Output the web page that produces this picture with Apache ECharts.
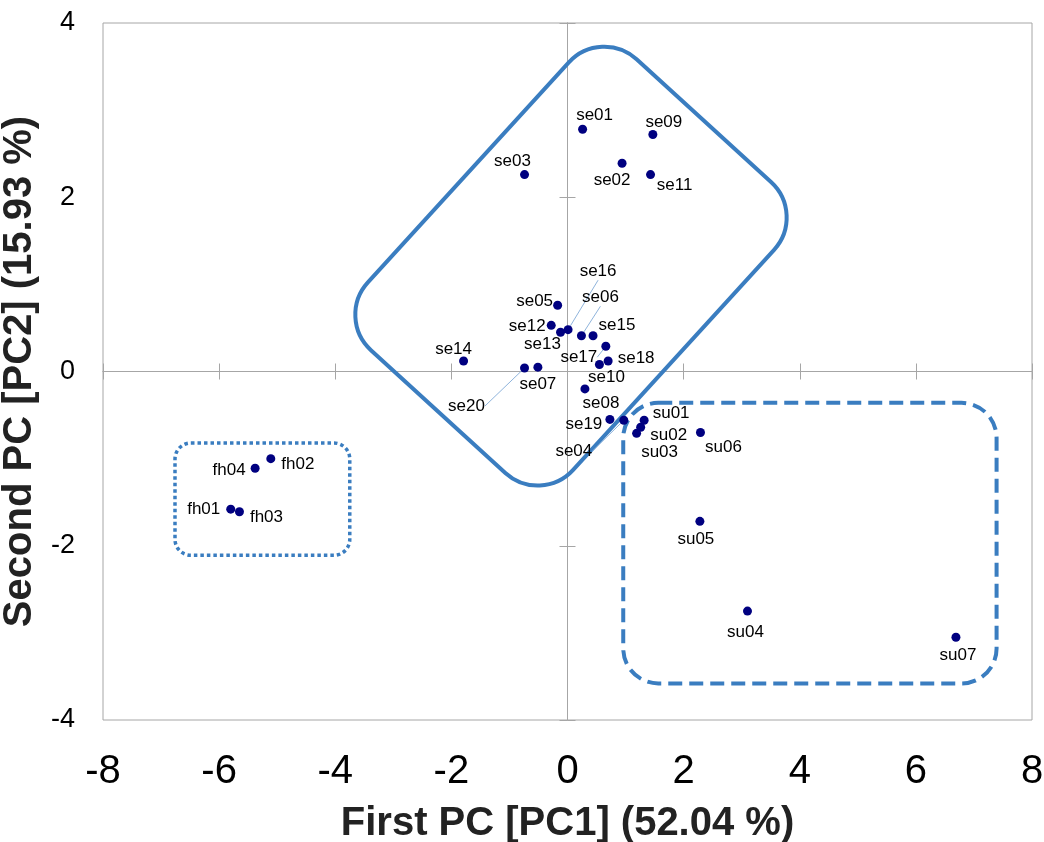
<!DOCTYPE html>
<html><head><meta charset="utf-8">
<script src="https://cdn.jsdelivr.net/npm/echarts@6/dist/echarts.min.js"></script>
<style>html,body{margin:0;padding:0;background:#fff}#c{width:1044px;height:842px}</style>
</head><body><div id="c"></div>
<script>
// ---- data ----
const sampleNames = ['se01','se02','se03','se04','se05','se06','se07','se08','se09','se10',
  'se11','se12','se13','se14','se15','se16','se17','se18','se19','se20',
  'su01','su02','su03','su04','su05','su06','su07','fh01','fh02','fh03','fh04'];
const pc1Scores = [0.26,0.94,-0.74,0.97,-0.17,0.24,-0.51,0.30,1.47,0.55,
  1.43,-0.28,-0.12,-1.79,0.44,0.01,0.66,0.70,0.73,-0.74,
  1.32,1.26,1.19,3.10,2.28,2.29,6.69,-5.80,-5.11,-5.65,-5.38];
const pc2Scores = [2.78,2.39,2.26,-0.56,0.76,0.41,0.05,-0.20,2.72,0.08,
  2.26,0.53,0.45,0.12,0.41,0.48,0.29,0.12,-0.55,0.04,
  -0.56,-0.64,-0.71,-2.75,-1.72,-0.70,-3.05,-1.58,-1.00,-1.61,-1.11];
const xTickValues = [-8,-6,-4,-2,0,2,4,6,8];
const yTickValues = [-4,-2,0,2,4];
const xAxisTitle = 'First PC [PC1] (52.04 %)';
const yAxisTitle = 'Second PC [PC2] (15.93 %)';

// ---- styling (label placement, leader lines, group outlines) ----
const labelOffsets = {
  se01:[12,-14], se02:[-10,17], se03:[-12,-13], se04:[-50,31], se05:[-23,-4],
  se06:[19,-38], se07:[0,17], se08:[16,14], se09:[11,-12], se10:[7,13],
  se11:[24,11], se12:[-24,1], se13:[-18,12], se14:[-10,-12], se15:[24,-10],
  se16:[30,-58], se17:[-27,11], se18:[28,-3], se19:[-26,5], se20:[-58,38],
  su01:[27,-7], su02:[28,8], su03:[23,19], su04:[-2,21], su05:[-4,18],
  su06:[23,15], su07:[2,18], fh01:[-27,0], fh02:[27,6], fh03:[27,6], fh04:[-26,2]
};
const leaderLabels = ['se16','se06','se17','se20','se04'];
const BLUE = '#3A7DC0';
const GRAY = '#a6a6a6';
const FONT = "'Liberation Sans', Arial, sans-serif";

const chart = echarts.init(document.getElementById('c'));
const gridRect = {left:103, top:23, width:929, height:697, containLabel:false, outerBoundsMode:'none'};

function zeroAxes(gi, inside) {
  const common = {gridIndex:gi, type:'value', axisLabel:{show:false}, splitLine:{show:false},
    axisLine:{show:true, onZero:true, lineStyle:{color:GRAY, width:1}},
    axisTick:{show:true, inside:inside, length:8, lineStyle:{color:GRAY, width:1}}};
  return {
    x: Object.assign({min:xTickValues[0], max:xTickValues[xTickValues.length-1], interval:2}, common),
    y: Object.assign({min:yTickValues[0], max:yTickValues[yTickValues.length-1], interval:2}, common)
  };
}
const z1 = zeroAxes(1, true), z2 = zeroAxes(2, false);

const option = {
  animation:false,
  backgroundColor:'#fff',
  grid:[
    Object.assign({show:true, borderColor:GRAY, borderWidth:1, backgroundColor:'transparent'}, gridRect),
    Object.assign({show:false}, gridRect),
    Object.assign({show:false}, gridRect)
  ],
  xAxis:[
    {gridIndex:0, type:'value', position:'bottom', min:xTickValues[0], max:xTickValues[xTickValues.length-1], interval:2,
     axisLine:{show:false, onZero:false}, axisTick:{show:false}, splitLine:{show:false},
     axisLabel:{fontSize:40, color:'#000', margin:32, fontFamily:FONT},
     name:xAxisTitle, nameLocation:'middle', nameGap:84,
     nameTextStyle:{fontSize:40, fontWeight:'bold', color:'#222', fontFamily:FONT}},
    z1.x, z2.x
  ],
  yAxis:[
    {gridIndex:0, type:'value', position:'left', min:yTickValues[0], max:yTickValues[yTickValues.length-1], interval:2,
     axisLine:{show:false, onZero:false}, axisTick:{show:false}, splitLine:{show:false},
     axisLabel:{fontSize:27, color:'#000', margin:28, fontFamily:FONT},
     name:yAxisTitle, nameLocation:'middle', nameGap:53,
     nameTextStyle:{fontSize:40, fontWeight:'bold', color:'#222', fontFamily:FONT}},
    z1.y, z2.y
  ],
  series:[{
    type:'scatter', xAxisIndex:0, yAxisIndex:0, z:5,
    symbol:'circle', symbolSize:9,
    itemStyle:{color:'#000080', opacity:1},
    label:{show:true, position:'inside', formatter:'{b}', fontSize:17, color:'#000', fontFamily:FONT},
    labelLine:{show:false, lineStyle:{color:'#8fb4dc', width:1}},
    labelLayout:function(p){ const o = labelOffsets[sampleNames[p.dataIndex]] || [0,0]; return {dx:o[0], dy:o[1]}; },
    data: sampleNames.map((n,i)=>{
      const d = {name:n, value:[pc1Scores[i], pc2Scores[i]]};
      if (leaderLabels.indexOf(n) >= 0) d.labelLine = {show:true, lineStyle:{color:'#8fb4dc', width:1}};
      return d;
    })
  }]
};
chart.setOption(option);

// ---- group outlines, positioned through the chart's coordinate system ----
const solidGroup = {center:[0.06,1.21], w:278, h:394, rotDeg:-42.4, r:48};
const sumGroup = {x:[0.96,7.39], y:[-3.58,-0.36], r:35};
const fhGroup = {x:[-6.76,-3.75], y:[-2.11,-0.82], r:16};
function px(p){ return chart.convertToPixel({xAxisIndex:0, yAxisIndex:0}, p); }
function roundBox(g, dash, lw) {
  const a = px([g.x[0], g.y[1]]), b = px([g.x[1], g.y[0]]);
  return {type:'rect', z:1, silent:true,
    shape:{x:a[0], y:a[1], width:b[0]-a[0], height:b[1]-a[1], r:g.r},
    style:{fill:'none', stroke:BLUE, lineWidth:lw, lineDash:dash}};
}
const c = px(solidGroup.center);
chart.setOption({graphic:[
  {type:'rect', z:1, silent:true, x:c[0], y:c[1], rotation:solidGroup.rotDeg*Math.PI/180,
   shape:{x:-solidGroup.w/2, y:-solidGroup.h/2, width:solidGroup.w, height:solidGroup.h, r:solidGroup.r},
   style:{fill:'none', stroke:BLUE, lineWidth:4}},
  roundBox(sumGroup, [14,7], 4),
  roundBox(fhGroup, [3.5,3], 3.5)
]});
</script></body></html>
